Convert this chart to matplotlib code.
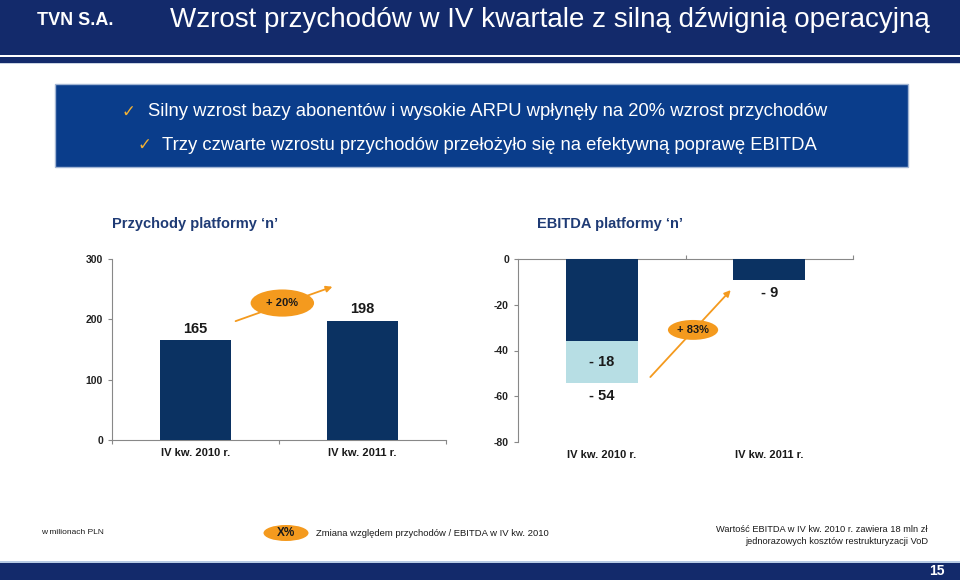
import matplotlib.pyplot as plt
from matplotlib.patches import Rectangle, Ellipse
from matplotlib import font_manager

plt.rcParams['font.family'] = ['Liberation Sans', 'DejaVu Sans']
plt.rcParams['axes.unicode_minus'] = False

# dane (mln PLN)
categories = ['IV kw. 2010 r.', 'IV kw. 2011 r.']
revenue = [165, 198]
ebitda_base = [-36, -9]
ebitda_oneoff = [-18, 0]
ebitda_total = [-54, -9]
revenue_change = '+ 20%'
ebitda_change = '+ 83%'

title = 'Wzrost przychodów w IV kwartale z silną dźwignią operacyjną'
bullets = ['Silny wzrost bazy abonentów i wysokie ARPU wpłynęły na 20% wzrost przychodów',
           'Trzy czwarte wzrostu przychodów przełożyło się na efektywną poprawę EBITDA']
subtitles = ['Przychody platformy ‘n’', 'EBITDA platformy ‘n’']

NAVY = '#132a6b'
BANNER = '#0a3d8b'
DARK = '#0b3262'
LIGHT = '#b7dee4'
ORANGE = '#f49a1e'
SUBCOL = '#1f3b75'

W, H = 960, 580


def fx(x):
    return x / W


def fy(y):
    return 1 - y / H


fig = plt.figure(figsize=(9.6, 5.8), dpi=100)


def add_rect(x0, y0, x1, y1, color, **kw):
    fig.add_artist(Rectangle((fx(x0), fy(y1)), (x1 - x0) / W, (y1 - y0) / H,
                             transform=fig.transFigure, facecolor=color, **kw))


# nagłówek
add_rect(0, 0, 960, 54.5, NAVY, lw=0)
add_rect(0, 57, 960, 63, NAVY, lw=0)
add_rect(0, 63, 960, 64, '#c9d3e3', lw=0)
fig.text(fx(37), fy(25), 'TVN S.A.', color='white', fontsize=13, fontweight='bold', va='baseline')
fig.text(fx(170), fy(27), title, color='white', fontsize=20, va='baseline')

# baner
add_rect(55, 84, 908, 167, BANNER, edgecolor='#a3b6d4', lw=1)
chk_x = [122, 137]
txt_x = [148, 162]
line_y = [116.5, 150]
for cx, tx, ly, b in zip(chk_x, txt_x, line_y, bullets):
    fig.text(fx(cx), fy(ly), '✓', color='#f2b134', fontsize=12,
             family=['DejaVu Sans'], va='baseline')
    fig.text(fx(tx), fy(ly), b, color='white', fontsize=13.3, va='baseline')

# podtytuły
names = {f.name for f in font_manager.fontManager.ttflist}
if 'Liberation Sans Narrow' in names:
    sub_fam, sub_size = ['Liberation Sans Narrow', 'Liberation Sans'], 12.8
else:
    sub_fam, sub_size = ['Liberation Sans'], 10.5
for sx, s in zip([112, 537], subtitles):
    fig.text(fx(sx), fy(224), s, color=SUBCOL, fontsize=sub_size, fontweight='bold',
             family=sub_fam, va='center')

x = list(range(len(categories)))
tick_kw = dict(labelsize=7.5, colors='#888888', labelcolor='#222222', length=3, width=0.8)


def change_badge(ax, start, end, center, w, h, label):
    ax.annotate('', xy=end, xytext=start,
                arrowprops=dict(arrowstyle='-|>', color=ORANGE, lw=1.3,
                                mutation_scale=9, shrinkA=0, shrinkB=0),
                annotation_clip=False, zorder=4)
    ax.add_patch(Ellipse(center, w, h, facecolor=ORANGE, edgecolor='none', zorder=5, clip_on=False))
    ax.text(center[0], center[1], label, ha='center', va='center', fontsize=8,
            fontweight='bold', color='#1a1a1a', zorder=6)


# wykres przychodów
ax1 = fig.add_axes([fx(112), fy(440), 334 / W, 181 / H])
ax1.bar(x, revenue, width=0.43, color=DARK, zorder=3)
ax1.set_xlim(-0.5, 1.5)
ax1.set_ylim(0, 300)
ax1.set_yticks([0, 100, 200, 300])
ax1.set_xticks([-0.5, 0.5, 1.5])
ax1.set_xticklabels([])
ax1.tick_params(**tick_kw)
for lab in ax1.get_yticklabels():
    lab.set_fontweight('bold')
for side in ['top', 'right']:
    ax1.spines[side].set_visible(False)
for side in ['left', 'bottom']:
    ax1.spines[side].set_color('#888888')
    ax1.spines[side].set_linewidth(0.8)
for i, v in zip(x, revenue):
    ax1.annotate(str(v), (i, v), xytext=(0, 8), textcoords='offset points',
                 ha='center', va='center', fontsize=10.5, fontweight='bold', color='#1a1a1a')
for i, c in zip(x, categories):
    ax1.annotate(c, (i, 0), xycoords=('data', 'axes fraction'), xytext=(0, -9.5),
                 textcoords='offset points', ha='center', va='center',
                 fontsize=8, fontweight='bold', color='#1a1a1a')
change_badge(ax1, (0.24, revenue[0] + 32), (0.82, revenue[1] + 56),
             (0.52, 227), 0.38, 45, revenue_change)

# wykres EBITDA
ax2 = fig.add_axes([fx(518), fy(442), 335 / W, 183 / H])
ax2.bar(x, ebitda_base, width=0.43, color=DARK, zorder=3)
ax2.bar(x, ebitda_oneoff, bottom=ebitda_base, width=0.43, color=LIGHT, zorder=3)
ax2.set_xlim(-0.5, 1.5)
ax2.set_ylim(-80, 0)
ax2.set_yticks([0, -20, -40, -60, -80])
ax2.xaxis.tick_top()
ax2.set_xticks([0.5, 1.5])
ax2.set_xticklabels([])
ax2.tick_params(**tick_kw)
for lab in ax2.get_yticklabels():
    lab.set_fontweight('bold')
for side in ['bottom', 'right']:
    ax2.spines[side].set_visible(False)
for side in ['left', 'top']:
    ax2.spines[side].set_color('#888888')
    ax2.spines[side].set_linewidth(0.8)
for i, b, o, t in zip(x, ebitda_base, ebitda_oneoff, ebitda_total):
    if o:
        ax2.text(i, b + o / 2, f'- {abs(o)}', ha='center', va='center',
                 fontsize=10.5, fontweight='bold', color='#1a1a1a', zorder=4)
    ax2.annotate(f'- {abs(t)}', (i, t), xytext=(0, -9.5), textcoords='offset points',
                 ha='center', va='center', fontsize=10.5, fontweight='bold', color='#1a1a1a')
for i, c in zip(x, categories):
    ax2.annotate(c, (i, 0), xycoords=('data', 'axes fraction'), xytext=(0, -9.5),
                 textcoords='offset points', ha='center', va='center',
                 fontsize=8, fontweight='bold', color='#1a1a1a')
change_badge(ax2, (0.29, ebitda_total[0] + 2.4), (0.77, ebitda_total[1] - 4.6),
             (0.545, -31), 0.30, 8.7, ebitda_change)

# stopka
fig.text(fx(41), fy(532), 'w milionach PLN', fontsize=6, color='#1a1a1a', va='center')
fig.add_artist(Ellipse((fx(286), fy(533)), 45 / W, 16 / H, transform=fig.transFigure,
                       facecolor=ORANGE, edgecolor='none'))
fig.text(fx(286), fy(533), 'X%', fontsize=8.5, fontweight='bold', color='#1a1a1a',
         ha='center', va='center')
fig.text(fx(316), fy(533), 'Zmiana względem przychodów / EBITDA w IV kw. 2010',
         fontsize=6.8, color='#1a1a1a', va='center')
fig.text(fx(928), fy(530), 'Wartość EBITDA w IV kw. 2010 r. zawiera 18 mln zł',
         fontsize=6.7, color='#1a1a1a', ha='right', va='center')
fig.text(fx(928), fy(541), 'jednorazowych kosztów restrukturyzacji VoD',
         fontsize=6.7, color='#1a1a1a', ha='right', va='center')

add_rect(0, 561, 960, 563, '#b8cbe4', lw=0)
add_rect(0, 563, 960, 580, NAVY, lw=0)
fig.text(fx(945), fy(571), '15', fontsize=10, fontweight='bold', color='white',
         ha='right', va='center')

fig.savefig('out.png', dpi=100)
